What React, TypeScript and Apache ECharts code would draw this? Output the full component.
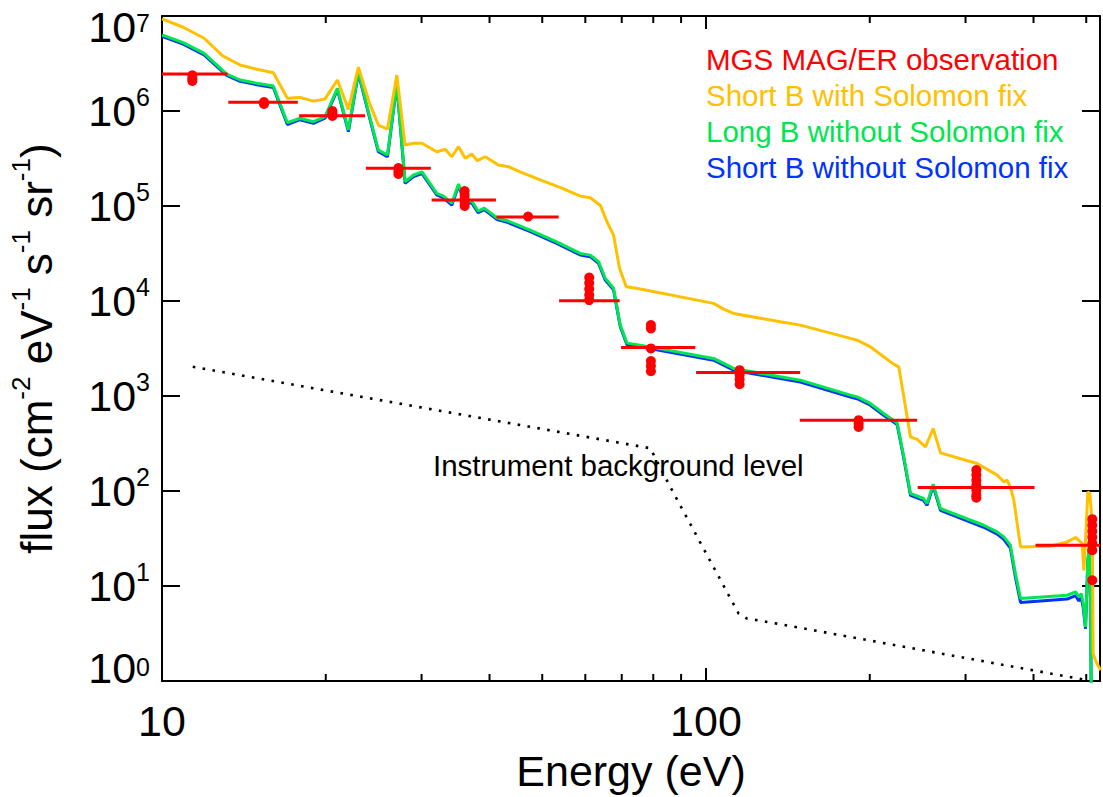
import React, { useEffect, useRef } from 'react';
import * as echarts from 'echarts';

const FONT = '"Liberation Sans", Arial, Helvetica, sans-serif';

const X_MIN = 10;
const X_MAX = 530;
const Y_MIN = 1;
const Y_MAX = 1e7;

// Short B with Solomon fix (orange)
const orangeE = [10, 10.94, 11.95, 12.93, 13.92, 14.94, 16.02, 17.0, 17.94, 18.98, 19.94, 21.01, 22.01, 22.96, 24.13, 24.99, 25.97, 27.02, 27.98, 29.0, 30.05, 32.0, 33.15, 34.1, 35.08, 36.1, 37.1, 38.0, 39.27, 41.55, 43.35, 45.54, 49.57, 54.34, 58.73, 61.26, 63.91, 65.75, 67.62, 69.36, 71.35, 75.71, 103.3, 107.7, 112.4, 137.0, 149.1, 184.3, 189.6, 200.5, 212.1, 221.3, 226.1, 231.0, 237.6, 244.4, 253.2, 261.6, 269.8, 315.0, 343.0, 352.7, 357.7, 362.7, 368.0, 378.6, 429.8, 461.3, 477.9, 484.6, 491.6, 495.0, 498.5, 503.4, 507.6, 512.8, 514.9, 520.0, 531.0];
const orangeFlux = [9.31e6, 7.61e6, 5.83e6, 3.8e6, 3.05e6, 2.75e6, 2.53e6, 1.36e6, 1.39e6, 1.27e6, 1.34e6, 2.12e6, 1.04e6, 2.89e6, 1.16e6, 7.12e5, 6.46e5, 2.39e6, 4.38e5, 4.57e5, 4.57e5, 3.73e5, 3.95e5, 3.3e5, 4.21e5, 3.18e5, 3.53e5, 3.0e5, 3.3e5, 2.7e5, 2.59e5, 2.29e5, 1.88e5, 1.54e5, 1.27e5, 1.22e5, 1.02e5, 6.83e4, 4.94e4, 2.2e4, 1.41e4, 1.335e4, 9435, 8216, 7403, 6040, 5574, 4037, 3874, 3294, 2585, 2165, 2028, 979, 371, 349, 291, 455, 252, 195, 147, 125, 130, 110, 80, 25.8, 26.2, 29.1, 32.4, 30.3, 28.0, 14.6, 30.3, 97.8, 94.1, 45.5, 1.94, 1.65, 1.3];

// Long B / Short B without Solomon fix (green / blue)
const modelE = [10, 10.94, 11.95, 13.15, 13.92, 14.94, 16.02, 17.0, 17.94, 18.98, 19.94, 21.01, 22.01, 22.96, 24.13, 24.99, 25.97, 27.02, 27.98, 29.0, 30.05, 32.0, 32.91, 34.1, 35.08, 36.1, 37.1, 38.12, 39.1, 41.31, 43.29, 47.53, 53.27, 58.73, 61.26, 63.46, 65.29, 67.62, 69.57, 71.57, 75.71, 103.3, 112.4, 137.0, 149.1, 184.3, 189.6, 200.5, 212.1, 224.6, 231.0, 237.6, 251.2, 254.9, 261.6, 269.8, 324.0, 343.0, 352.7, 362.7, 370.5, 378.6, 461.3, 477.9, 484.6, 489.5, 493.7, 498.5, 503.4, 507.6, 510.6];
const greenFlux = [6.32e6, 5.24e6, 4.05e6, 2.45e6, 2.12e6, 1.96e6, 1.83e6, 7.53e5, 8.38e5, 7.72e5, 8.71e5, 1.73e6, 6.31e5, 2.59e6, 8.38e5, 3.88e5, 3.44e5, 1.96e6, 1.8e5, 2.12e5, 2.29e5, 1.36e5, 1.27e5, 1.07e5, 1.7e5, 1.11e5, 1.13e5, 8.85e4, 9.51e4, 7.47e4, 6.94e4, 5.58e4, 4.17e4, 3.17e4, 3.04e4, 2.59e4, 1.73e4, 1.36e4, 5574, 3603, 3432, 2486, 1951, 1591, 1469, 1021, 979, 835, 655, 521, 229, 94.1, 83.4, 73.8, 118, 65.4, 43.6, 37.1, 32.9, 26.9, 13.5, 7.38, 7.99, 8.66, 7.67, 8.33, 6.53, 3.7, 18.7, 30.3, 0.9];
const blueFlux = [6.1e6, 5.05e6, 3.9e6, 2.37e6, 2.05e6, 1.89e6, 1.77e6, 7.2e5, 8.1e5, 7.4e5, 8.4e5, 1.68e6, 6.05e5, 2.5e6, 8.05e5, 3.72e5, 3.3e5, 1.9e6, 1.73e5, 2.04e5, 2.2e5, 1.31e5, 1.22e5, 1.02e5, 1.63e5, 1.07e5, 1.08e5, 8.5e4, 9.15e4, 7.2e4, 6.68e4, 5.37e4, 4.01e4, 3.05e4, 2.93e4, 2.49e4, 1.66e4, 1.31e4, 5350, 3460, 3300, 2380, 1870, 1525, 1405, 975, 935, 800, 628, 500, 220, 90, 79.5, 70.5, 113, 62.5, 41.5, 35.2, 31.0, 25.0, 12.4, 6.72, 7.28, 7.9, 6.95, 7.6, 5.9, 3.55, 17.8, 29, 0.9];

// Instrument background level (dotted)
const bgE = [11.39, 78.99, 85.96, 114.8, 119.0, 135.1, 509];
const bgFlux = [2028, 282, 110.4, 5.13, 4.54, 4.02, 1.005];

// MGS MAG/ER observation: energy bins and fluxes
const binLo = [9.79, 13.24, 17.87, 23.7, 31.3, 41.2, 53.7, 69.8, 95.9, 148.7, 245, 403.4];
const binHi = [13.2, 17.77, 23.63, 31.2, 41.1, 53.6, 69.4, 95.6, 149, 244.4, 401.7, 653];
const binFlux = [2.45e6, 1.235e6, 8.92e5, 2.49e5, 1.155e5, 7.65e4, 1.005e4, 3247, 1770, 557, 108.9, 26.9];

const obsE = [
  11.37, 11.37, 11.37,
  15.4, 15.4,
  20.57, 20.57, 20.57,
  27.2, 27.2, 27.2,
  36.0, 36.0, 36.0, 36.0, 36.0,
  47.1,
  61.0, 61.0, 61.0, 61.0, 61.0,
  79.2, 79.2, 79.2, 79.2, 79.2, 79.2,
  115.3, 115.3, 115.3, 115.3,
  190.8, 190.8, 190.8,
  314, 314, 314, 314, 314, 314, 314,
  513, 513, 513, 513, 513, 513, 513,
];
const obsFlux = [
  2.38e6, 2.2e6, 2.07e6,
  1.24e6, 1.185e6,
  1.0e6, 9.41e5, 8.86e5,
  2.51e5, 2.33e5, 2.17e5,
  1.437e5, 1.304e5, 1.184e5, 1.074e5, 9.99e4,
  7.74e4,
  1.764e4, 1.543e4, 1.335e4, 1.154e4, 1.022e4,
  5574, 5145, 3168, 2329, 2063, 1827,
  1872, 1679, 1505, 1333,
  557, 511, 473,
  166, 147, 130, 115, 102, 90.3, 85.0,
  50.5, 43.6, 37.7, 32.6, 28.2, 23.8, 11.5,
];

const xMinorTicks = [20, 30, 40, 50, 60, 70, 80, 90, 200, 300, 400, 500];

const legendNames = [
  'MGS MAG/ER observation',
  'Short B with Solomon fix',
  'Long B without Solomon fix',
  'Short B without Solomon fix',
];
const RED = '#ff0000';
const ORANGE = '#ffc000';
const GREEN = '#00e650';
const BLUE = '#0033ff';
const legendColors = [RED, ORANGE, GREEN, BLUE];

const zip = (a: number[], b: number[]) => a.map((v, i) => [v, b[i]]);

const axisLine = { show: true, onZero: false, lineStyle: { color: '#000', width: 2 } };
const tickStyle = { color: '#000', width: 2 };

const isDecade = (v: number) => Math.abs(Math.log10(v) - Math.round(Math.log10(v))) < 1e-6;

function buildOption(): any {
  const yRich = {
    b: { fontSize: 43, lineHeight: 54, fontFamily: FONT, color: '#000' },
    s: { fontSize: 25, lineHeight: 26, verticalAlign: 'top', fontFamily: FONT, color: '#000' },
    bt: { fontSize: 43, lineHeight: 54, fontFamily: FONT, color: '#000', padding: [21, 0, 0, 0] },
    st: { fontSize: 25, lineHeight: 26, verticalAlign: 'top', fontFamily: FONT, color: '#000', padding: [21, 0, 0, 0] },
    bb: { fontSize: 43, lineHeight: 54, fontFamily: FONT, color: '#000', padding: [0, 0, 26, 0] },
  };
  return {
    animation: false,
    backgroundColor: '#fff',
    grid: { left: 162, right: 3, top: 16, bottom: 116, containLabel: false, outerBoundsMode: 'none' },
    legend: {
      show: true,
      orient: 'vertical',
      left: 701,
      top: 44,
      padding: 0,
      itemGap: 6,
      itemWidth: 0,
      itemHeight: 0,
      icon: 'rect',
      selectedMode: false,
      itemStyle: { opacity: 0 },
      lineStyle: { opacity: 0 },
      textStyle: { fontSize: 29.5, fontFamily: FONT, lineHeight: 30 },
      data: legendNames.map((n, i) => ({ name: n, textStyle: { color: legendColors[i] } })),
    },
    xAxis: [
      {
        type: 'log', logBase: 10, min: X_MIN, max: X_MAX, position: 'bottom',
        axisLine, axisTick: { show: true, inside: true, length: 13, lineStyle: tickStyle },
        axisLabel: {
          show: true, margin: 18, fontSize: 43, lineHeight: 43, fontFamily: FONT, color: '#000',
          formatter: (v: number) => (isDecade(v) ? String(Math.round(v)) : ''),
          showMaxLabel: false,
        },
        splitLine: { show: false }, minorTick: { show: false }, minorSplitLine: { show: false },
        name: 'Energy (eV)', nameLocation: 'middle', nameGap: 68, nameMoveOverlap: false,
        nameTextStyle: { fontSize: 43, lineHeight: 43, fontFamily: FONT, color: '#000' },
      },
      {
        type: 'log', logBase: 10, min: X_MIN, max: X_MAX, position: 'top',
        axisLine, axisTick: { show: true, inside: true, length: 13, lineStyle: tickStyle },
        axisLabel: { show: false }, splitLine: { show: false },
      },
    ],
    yAxis: [
      {
        type: 'log', logBase: 10, min: Y_MIN, max: Y_MAX, position: 'left',
        axisLine, axisTick: { show: true, inside: true, length: 18, lineStyle: tickStyle },
        axisLabel: {
          show: true, margin: 12, color: '#000', fontFamily: FONT,
          formatter: (v: number) => {
            const e = Math.round(Math.log10(v));
            if (e === 7) return `{bt|10}{st|${e}}`;
            if (e === 0) return `{bb|10}{s|${e}}`;
            return `{b|10}{s|${e}}`;
          },
          rich: yRich,
        },
        splitLine: { show: false }, minorTick: { show: false },
        name: 'flux (cm{s|-2} eV{s|-1} s{s|-1} sr{s|-1})',
        nameLocation: 'middle', nameRotate: 90, nameGap: 98, nameMoveOverlap: false,
        nameTextStyle: {
          fontSize: 44, lineHeight: 56, fontFamily: FONT, color: '#000',
          rich: { s: { fontSize: 26, lineHeight: 27, verticalAlign: 'top', fontFamily: FONT, color: '#000' } },
        },
      },
      {
        type: 'log', logBase: 10, min: Y_MIN, max: Y_MAX, position: 'right',
        axisLine, axisTick: { show: true, inside: true, length: 18, lineStyle: tickStyle },
        axisLabel: { show: false }, splitLine: { show: false },
      },
    ],
    graphic: [
      {
        type: 'text', x: 433, y: 465, silent: true,
        style: {
          text: 'Instrument background level', fill: '#000',
          font: `29.5px ${FONT}`, textAlign: 'left', textVerticalAlign: 'middle',
        },
      },
    ],
    series: [
      {
        name: 'Instrument background level', type: 'line', z: 2, showSymbol: false, symbol: 'none',
        data: zip(bgE, bgFlux),
        lineStyle: { color: '#000', width: 2.6, type: [2.6, 7.4] },
        silent: true,
      },
      {
        name: 'Short B without Solomon fix', type: 'line', z: 3, symbol: 'none', showSymbol: false,
        data: zip(modelE, blueFlux), color: BLUE,
        lineStyle: { color: BLUE, width: 3 }, silent: true,
      },
      {
        name: 'Long B without Solomon fix', type: 'line', z: 4, symbol: 'none', showSymbol: false,
        data: zip(modelE, greenFlux), color: GREEN,
        lineStyle: { color: GREEN, width: 3 }, silent: true,
      },
      {
        name: 'Short B with Solomon fix', type: 'line', z: 5, symbol: 'none', showSymbol: false,
        data: zip(orangeE, orangeFlux), color: ORANGE,
        lineStyle: { color: ORANGE, width: 3 }, silent: true,
      },
      {
        name: 'MGS MAG/ER observation', type: 'custom', z: 6, clip: true, silent: true, color: RED,
        data: binLo.map((lo, i) => [lo, binHi[i], binFlux[i]]),
        encode: { x: [0, 1], y: 2 },
        renderItem: (params: any, api: any) => {
          const a = api.coord([api.value(0), api.value(2)]);
          const b = api.coord([api.value(1), api.value(2)]);
          return {
            type: 'line',
            shape: { x1: a[0], y1: a[1], x2: b[0], y2: b[1] },
            style: { stroke: RED, lineWidth: 3 },
          };
        },
      },
      {
        name: 'MGS MAG/ER observation', type: 'scatter', z: 7, silent: true,
        data: zip(obsE, obsFlux), symbol: 'circle', symbolSize: 10,
        itemStyle: { color: RED, opacity: 1 },
      },
      {
        name: 'minor ticks', type: 'custom', z: 10, clip: false, silent: true,
        data: xMinorTicks.map((v) => [v, Y_MIN]),
        encode: { x: 0, y: 1 },
        renderItem: (params: any, api: any) => {
          const v = api.value(0);
          const bot = api.coord([v, Y_MIN]);
          const top = api.coord([v, Y_MAX]);
          return {
            type: 'group',
            children: [
              { type: 'line', shape: { x1: bot[0], y1: bot[1], x2: bot[0], y2: bot[1] - 7 }, style: { stroke: '#000', lineWidth: 2 } },
              { type: 'line', shape: { x1: top[0], y1: top[1], x2: top[0], y2: top[1] + 7 }, style: { stroke: '#000', lineWidth: 2 } },
            ],
          };
        },
      },
    ],
  };
}

export default function App() {
  const ref = useRef<HTMLDivElement>(null);
  useEffect(() => {
    document.body.style.margin = '0';
    const chart = echarts.init(ref.current as HTMLDivElement, null, { renderer: 'svg' });
    chart.setOption(buildOption());
    return () => chart.dispose();
  }, []);
  return <div ref={ref} style={{ position: 'absolute', left: 0, top: 0, width: 1103, height: 797 }} />;
}
